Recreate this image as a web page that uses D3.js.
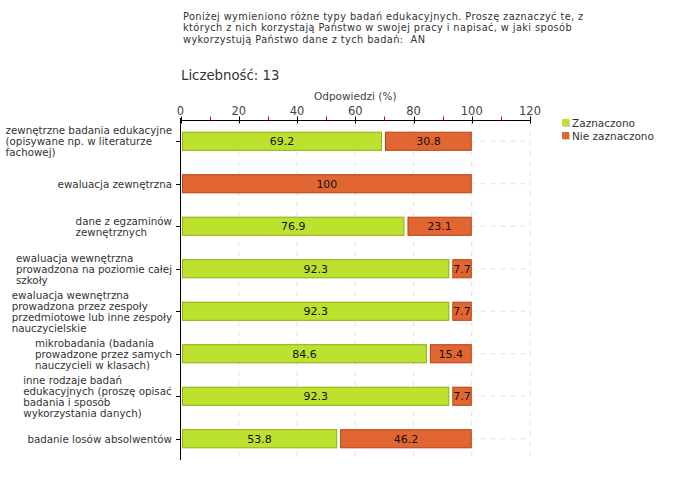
<!DOCTYPE html>
<html><head><meta charset="utf-8">
<script src="https://cdn.jsdelivr.net/npm/d3@7"></script>
<style>body{margin:0;background:#fff;} svg{display:block;} text{white-space:pre;}</style>
</head><body>
<svg id="c" width="680" height="480"></svg>
<script>
const titleLines = [
  "Poniżej wymieniono różne typy badań edukacyjnych. Proszę zaznaczyć te, z",
  "których z nich korzystają Państwo w swojej pracy i napisać, w jaki sposób",
  "wykorzystują Państwo dane z tych badań:  AN"
];
const countLabel = "Liczebność: 13";
const axisTitle = "Odpowiedzi (%)";
const categories = [
  "zewnętrzne badania edukacyjne\n(opisywane np. w literaturze\nfachowej)",
  "ewaluacja zewnętrzna",
  "dane z egzaminów\nzewnętrznych",
  "ewaluacja wewnętrzna\nprowadzona na poziomie całej\nszkoły",
  "ewaluacja wewnętrzna\nprowadzona przez zespoły\nprzedmiotowe lub inne zespoły\nnauczycielskie",
  "mikrobadania (badania\nprowadzone przez samych\nnauczycieli w klasach)",
  "inne rodzaje badań\nedukacyjnych (proszę opisać\nbadania i sposób\nwykorzystania danych)",
  "badanie losów absolwentów"
];
const seriesNames = ["Zaznaczono", "Nie zaznaczono"];
const zaznaczono = [69.2, 0, 76.9, 92.3, 92.3, 84.6, 92.3, 53.8];
const nieZaznaczono = [30.8, 100, 23.1, 7.7, 7.7, 15.4, 7.7, 46.2];
const majorTicks = [0, 20, 40, 60, 80, 100, 120];
const minorTicks = [10, 30, 50, 70, 90, 110];

const FONT = "DejaVu Sans";
const fills = ["#bde12f", "#e26631"];
const strokes = ["#8fae12", "#b8420f"];

const svg = d3.select("#c").style("font-family", FONT);
const x = d3.scaleLinear().domain([0, 120]).range([180.5, 530]);
const y = d3.scaleBand().domain(d3.range(categories.length)).range([120, 460]).paddingInner(0.55).paddingOuter(0.275);

// title
svg.append("g").selectAll("text").data(titleLines).join("text")
  .attr("x", 183).attr("y", (d, i) => 19.5 + i * 11.5)
  .attr("font-size", 9.8).attr("letter-spacing", 0.4).attr("fill", "#333").text(d => d);
svg.append("text").attr("x", 181).attr("y", 80).attr("font-size", 13.3).attr("fill", "#333").text(countLabel);
svg.append("text").attr("x", x(60)).attr("y", 100).attr("text-anchor", "middle").attr("font-size", 10.5).attr("fill", "#444").text(axisTitle);

// gridlines
const grid = svg.append("g");
grid.selectAll("line.v").data(majorTicks.filter(t => t > 0)).join("line")
  .attr("x1", d => x(d)).attr("x2", d => x(d)).attr("y1", 121).attr("y2", 460)
  .attr("stroke", "#e2e2e2").attr("stroke-dasharray", "5,5");
grid.selectAll("line.h").data(categories.map((c, i) => i)).join("line")
  .attr("x1", x(0)).attr("x2", x(120)).attr("y1", i => y(i) + y.bandwidth() / 2).attr("y2", i => y(i) + y.bandwidth() / 2)
  .attr("stroke", "#e2e2e2").attr("stroke-dasharray", "5,5");

// bars
const segs = [];
categories.forEach((c, i) => {
  const a = zaznaczono[i], b = nieZaznaczono[i];
  if (a > 0) segs.push({i, s: 0, v: a, x0: x(0) + 1.5, x1: x(a)});
  if (b > 0) segs.push({i, s: 1, v: b, x0: a > 0 ? x(a) + 3 : x(0) + 1.5, x1: x(a + b)});
});
const bars = svg.append("g");
bars.selectAll("rect").data(segs).join("rect")
  .attr("x", d => d.x0 + 0.5).attr("y", d => y(d.i) + 0.5)
  .attr("width", d => d.x1 - d.x0 - 1).attr("height", y.bandwidth() - 1)
  .attr("fill", d => fills[d.s]).attr("stroke", d => strokes[d.s]).attr("stroke-width", 1);
bars.selectAll("text").data(segs).join("text")
  .attr("x", d => (d.x0 + d.x1) / 2).attr("y", d => y(d.i) + y.bandwidth() / 2 + 4)
  .attr("text-anchor", "middle").attr("font-size", 11).attr("fill", "#111").text(d => d.v);

// x axis
const xa = svg.append("g").attr("transform", "translate(0,120.5)");
xa.append("line").attr("x1", x(0)).attr("x2", x(120)).attr("stroke", "#000");
xa.selectAll("line.mj").data(majorTicks).join("line").attr("class", "mj")
  .attr("x1", d => Math.round(x(d)) + 0.5).attr("x2", d => Math.round(x(d)) + 0.5).attr("y1", -4).attr("y2", 3).attr("stroke", "#000");
xa.selectAll("line.mn").data(minorTicks).join("line").attr("class", "mn")
  .attr("x1", d => Math.round(x(d)) + 0.5).attr("x2", d => Math.round(x(d)) + 0.5).attr("y1", -4).attr("y2", 0).attr("stroke", "#d00");
xa.selectAll("text").data(majorTicks).join("text")
  .attr("x", d => x(d)).attr("y", -6).attr("text-anchor", "middle").attr("font-size", 11.5).attr("fill", "#444").text(d => d);

// y axis
const ya = svg.append("g");
ya.append("line").attr("x1", 180.5).attr("x2", 180.5).attr("y1", 118).attr("y2", 460).attr("stroke", "#000");
ya.selectAll("line.tk").data(categories.map((c, i) => i)).join("line").attr("class", "tk")
  .attr("x1", 176).attr("x2", 180).attr("y1", i => Math.round(y(i) + y.bandwidth() / 2) + 0.5).attr("y2", i => Math.round(y(i) + y.bandwidth() / 2) + 0.5).attr("stroke", "#000");

// category labels (left-aligned block, right edge near axis)
const lh = 11;
categories.forEach((c, i) => {
  const lines = c.split("\n");
  const cy = y(i) + y.bandwidth() / 2;
  const t = ya.append("text").attr("font-size", 10.3).attr("fill", "#333");
  lines.forEach((l, k) => t.append("tspan").attr("x", 0).attr("y", cy - (lines.length - 1) * lh / 2 + k * lh + 4).text(l));
  const w = t.node().getBBox().width;
  t.attr("transform", `translate(${172 - w},0)`);
});

// legend
const lg = svg.append("g").selectAll("g").data(seriesNames).join("g")
  .attr("transform", (d, i) => `translate(562,${119 + i * 13})`);
lg.append("rect").attr("x", 1).attr("y", 1).attr("width", 7).attr("height", 7).attr("fill", "#ccc");
lg.append("rect").attr("width", 7).attr("height", 7).attr("fill", (d, i) => fills[i]);
lg.append("text").attr("x", 10).attr("y", 8).attr("font-size", 10.5).attr("fill", "#333").text(d => d);
</script>
</body></html>
